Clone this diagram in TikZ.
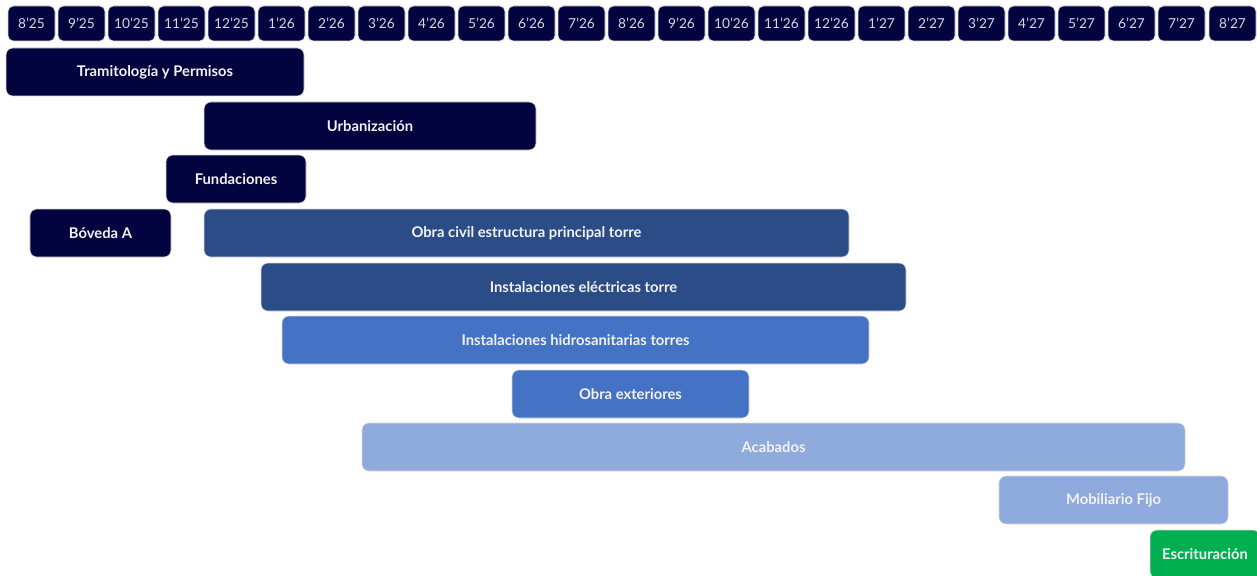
\documentclass[tikz,border=0pt]{standalone}
\usepackage{fontspec}
\setmainfont{Lato}
\usepackage{tikz}

\definecolor{navy}{HTML}{03033F}
\definecolor{steel}{HTML}{2B4C86}
\definecolor{midblue}{HTML}{4472C4}
\definecolor{paleblue}{HTML}{8FAADC}
\definecolor{okgreen}{HTML}{00B050}

\tikzset{
  month/.style={shape=rectangle, rounded corners=3pt, fill=navy, draw=white!85!black, line width=0.4pt,
    minimum width=0.94cm, minimum height=0.70cm, inner sep=0pt, text=white!85!black, font=\fontsize{7.8}{9}\selectfont},
  task/.style={shape=rectangle, rounded corners=4pt, draw=white!85!black, line width=0.3pt,
    minimum height=0.96cm, inner sep=0pt, text=white!95!black, font=\fontsize{8.4}{10}\selectfont\bfseries},
}

\begin{document}
\begin{tikzpicture}[x=1cm, y=-1cm]
    \clip (0,0) rectangle (25.14,11.52);
    \fill[white] (0,0) rectangle (25.14,11.52);

    % meses
    \node[month] (m1) at (0.63,0.47) {8’25};
    \node[month] (m2) at (1.63,0.47) {9’25};
    \node[month] (m3) at (2.63,0.47) {10’25};
    \node[month] (m4) at (3.63,0.47) {11’25};
    \node[month] (m5) at (4.63,0.47) {12’25};
    \node[month] (m6) at (5.63,0.47) {1’26};
    \node[month] (m7) at (6.63,0.47) {2’26};
    \node[month] (m8) at (7.63,0.47) {3’26};
    \node[month] (m9) at (8.63,0.47) {4’26};
    \node[month] (m10) at (9.63,0.47) {5’26};
    \node[month] (m11) at (10.63,0.47) {6’26};
    \node[month] (m12) at (11.63,0.47) {7’26};
    \node[month] (m13) at (12.63,0.47) {8’26};
    \node[month] (m14) at (13.63,0.47) {9’26};
    \node[month] (m15) at (14.63,0.47) {10’26};
    \node[month] (m16) at (15.63,0.47) {11’26};
    \node[month] (m17) at (16.63,0.47) {12’26};
    \node[month] (m18) at (17.63,0.47) {1’27};
    \node[month] (m19) at (18.63,0.47) {2’27};
    \node[month] (m20) at (19.63,0.47) {3’27};
    \node[month] (m21) at (20.63,0.47) {4’27};
    \node[month] (m22) at (21.63,0.47) {5’27};
    \node[month] (m23) at (22.63,0.47) {6’27};
    \node[month] (m24) at (23.63,0.47) {7’27};
    \node[month] (m25) at (24.65,0.47) {8’27};

    % actividades
    \node[task, fill=navy, minimum width=5.96cm] (tram) at (3.10,1.44) {Tramitología y Permisos};
    \node[task, fill=navy, minimum width=6.64cm] (urb) at (7.40,2.52) {Urbanización};
    \node[task, fill=navy, minimum width=2.80cm] (fund) at (4.72,3.58) {Fundaciones};
    \node[task, fill=navy, minimum width=2.82cm] (boveda) at (2.01,4.66) {Bóveda A};
    \node[task, fill=steel, minimum width=12.90cm] (civil) at (10.53,4.66) {Obra civil estructura principal torre};
    \node[task, fill=steel, minimum width=12.90cm] (elec) at (11.67,5.74) {Instalaciones eléctricas torre};
    \node[task, fill=midblue, minimum width=11.74cm] (hidro) at (11.51,6.80) {Instalaciones hidrosanitarias torres};
    \node[task, fill=midblue, minimum width=4.74cm] (ext) at (12.61,7.88) {Obra exteriores};
    \node[task, fill=paleblue, minimum width=16.46cm] (acab) at (15.47,8.94) {Acabados};
    \node[task, fill=paleblue, minimum width=4.58cm] (mob) at (22.27,10.00) {Mobiliario Fijo};
    \node[task, fill=okgreen, minimum width=2.20cm] (escr) at (24.10,11.08) {Escrituración};
\end{tikzpicture}
\end{document}
